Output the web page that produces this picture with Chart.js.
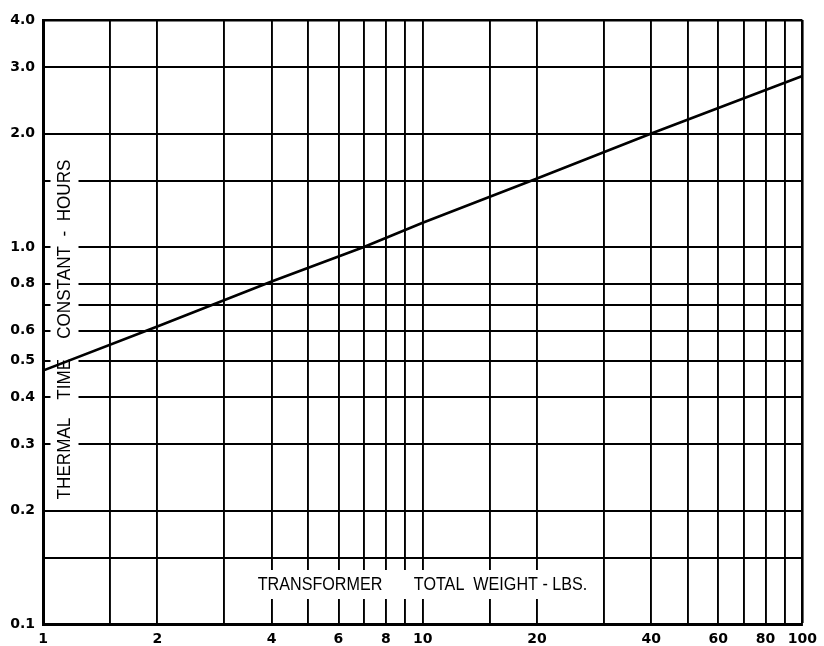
<!doctype html>
<html lang="en">
<head>
  <meta charset="utf-8" />
  <title>Thermal time constant</title>
  <style>
    body { margin: 0; background: #fff; }
    canvas { display: block; }
  </style>
</head>
<body>
  <canvas id="lienzo" width="824" height="646"></canvas>
  <script src="https://cdn.jsdelivr.net/npm/chart.js"></script>
  <script>
    // curve: total weight (lbs) -> thermal time constant (hours)
    const pesos = [1, 2, 4, 7, 10, 20, 40, 100];
    const constantes = [0.47, 0.615, 0.81, 1.0, 1.16, 1.52, 2.0, 2.84];

    // grid lines and labelled ticks
    const xRejilla = [1, 1.5, 2, 3, 4, 5, 6, 7, 8, 9, 10, 15, 20, 30, 40, 50, 60, 70, 80, 90, 100];
    const xEtiquetas = [1, 2, 4, 6, 8, 10, 20, 40, 60, 80, 100];
    const yRejilla = [0.1, 0.15, 0.2, 0.3, 0.4, 0.5, 0.6, 0.7, 0.8, 1, 1.5, 2, 3, 4];
    const yEtiquetas = [0.1, 0.2, 0.3, 0.4, 0.5, 0.6, 0.8, 1, 2, 3, 4];

    const tituloX = 'TRANSFORMER       TOTAL  WEIGHT - LBS.';
    const tituloY = ['THERMAL', 'TIME', 'CONSTANT  -  HOURS'];

    const fuenteTicks = { family: '"DejaVu Sans"', size: 14, weight: 'bold' };

    // row of words, each piece on its own white patch (gridlines erased behind)
    function renglon(ctx, trozos, huecos, escala, cx, cy, margen, alto) {
      const anchos = trozos.map(t => ctx.measureText(t).width * escala);
      const total = anchos.reduce((s, w) => s + w, 0) + huecos.reduce((s, h) => s + h, 0);
      let x = cx - total / 2;
      trozos.forEach((t, i) => {
        ctx.fillStyle = '#fff';
        ctx.fillRect(x - margen, cy - alto / 2, anchos[i] + 2 * margen, alto);
        ctx.fillStyle = '#000';
        ctx.save();
        ctx.translate(x, cy);
        ctx.scale(escala, 1);
        ctx.fillText(t, 0, 0);
        ctx.restore();
        x += anchos[i] + (huecos[i] || 0);
      });
    }

    const rotulos = {
      id: 'rotulos',
      beforeDatasetsDraw(chart) {
        const { ctx, chartArea: a } = chart;
        ctx.save();
        ctx.font = '19px "Liberation Sans"';
        ctx.textAlign = 'left';
        ctx.textBaseline = 'middle';
        renglon(ctx, [tituloX], [], 0.85, a.left + 379.5, a.bottom - 39.5, 7, 29);
        ctx.translate(a.left + 21.5, a.top + 309.5);
        ctx.rotate(-Math.PI / 2);
        renglon(ctx, tituloY, [18, 20], 0.9, 0, 0, 2, 28);
        ctx.restore();
      }
    };

    new Chart(document.querySelector('#lienzo'), {
      type: 'scatter',
      data: {
        datasets: [{
          data: pesos.map((p, i) => ({ x: p, y: constantes[i] })),
          showLine: true,
          borderColor: '#000',
          borderWidth: 2.6,
          pointRadius: 0,
          tension: 0
        }]
      },
      options: {
        responsive: false,
        animation: false,
        layout: { padding: { top: 20, right: 20, left: 0, bottom: 0 } },
        plugins: { legend: { display: false }, tooltip: { enabled: false } },
        scales: {
          x: {
            type: 'logarithmic',
            min: 1,
            max: 100,
            afterBuildTicks: s => { s.ticks = xRejilla.map(v => ({ value: v })); },
            afterFit: s => { s.height = 22; },
            ticks: {
              autoSkip: false,
              maxRotation: 0,
              padding: 7,
              color: '#000',
              font: fuenteTicks,
              callback: v => xEtiquetas.includes(v) ? String(v) : ''
            },
            grid: {
              color: '#000',
              drawTicks: false,
              lineWidth: c => (c.tick && c.tick.value === 100) ? 2.6 : 1.9
            },
            border: { color: '#000', width: 3 }
          },
          y: {
            type: 'logarithmic',
            min: 0.1,
            max: 4,
            afterBuildTicks: s => { s.ticks = yRejilla.map(v => ({ value: v })); },
            afterFit: s => { s.width = 43; },
            ticks: {
              autoSkip: false,
              padding: 8,
              color: '#000',
              font: fuenteTicks,
              callback: v => yEtiquetas.includes(v) ? v.toFixed(1) : ''
            },
            grid: {
              color: '#000',
              drawTicks: false,
              lineWidth: c => (c.tick && c.tick.value === 4) ? 2.6 : 1.9
            },
            border: { color: '#000', width: 3 }
          }
        }
      },
      plugins: [rotulos]
    });
  </script>
</body>
</html>
